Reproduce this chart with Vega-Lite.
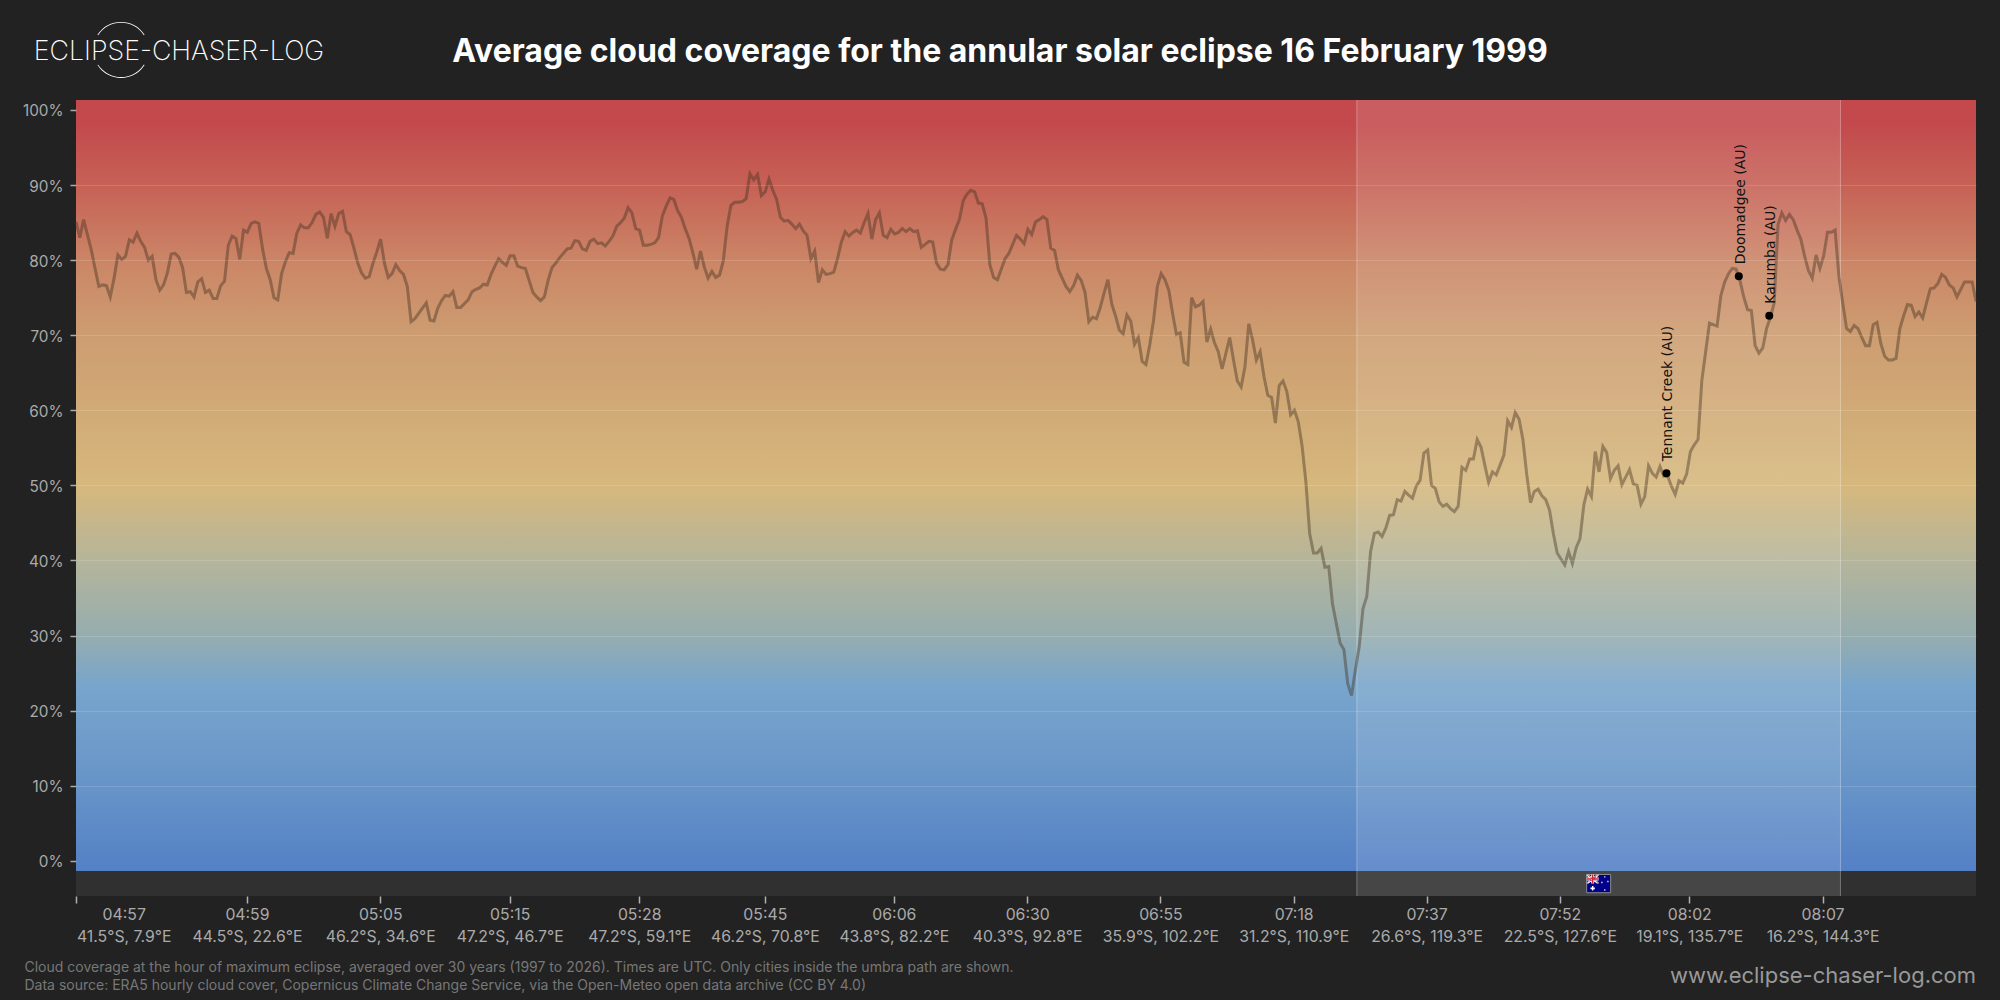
{"$schema":"https://vega.github.io/schema/vega-lite/v6.json","width":1900,"height":796,"autosize":{"type":"none"},"padding":{"left":76,"top":100,"right":24,"bottom":104},"background":"#222222","view":{"stroke":null},
"title":{"text":"Average cloud coverage for the annular solar eclipse 16 February 1999","anchor":"middle","frame":"group","dx":-26,"offset":-47,"font":"Inter","fontSize":32,"fontWeight":700,"color":"#ffffff"},
"datasets":{"cloud":[{"i":0,"v":85.1},{"i":1,"v":83.0},{"i":2,"v":85.4},{"i":3,"v":83.4},{"i":4,"v":81.4},{"i":5,"v":78.9},{"i":6,"v":76.5},{"i":7,"v":76.7},{"i":8,"v":76.6},{"i":9,"v":75.1},{"i":10,"v":77.6},{"i":11,"v":80.7},{"i":12,"v":80.1},{"i":13,"v":80.5},{"i":14,"v":82.7},{"i":15,"v":82.4},{"i":16,"v":83.6},{"i":17,"v":82.5},{"i":18,"v":81.7},{"i":19,"v":80.0},{"i":20,"v":80.5},{"i":21,"v":77.4},{"i":22,"v":76.0},{"i":23,"v":76.7},{"i":24,"v":78.3},{"i":25,"v":80.8},{"i":26,"v":80.9},{"i":27,"v":80.4},{"i":28,"v":79.0},{"i":29,"v":75.7},{"i":30,"v":75.8},{"i":31,"v":75.1},{"i":32,"v":77.1},{"i":33,"v":77.5},{"i":34,"v":75.7},{"i":35,"v":76.0},{"i":36,"v":74.9},{"i":37,"v":74.9},{"i":38,"v":76.6},{"i":39,"v":77.2},{"i":40,"v":82.0},{"i":41,"v":83.2},{"i":42,"v":82.9},{"i":43,"v":80.1},{"i":44,"v":84.0},{"i":45,"v":83.7},{"i":46,"v":84.9},{"i":47,"v":85.1},{"i":48,"v":84.9},{"i":49,"v":81.5},{"i":50,"v":78.9},{"i":51,"v":77.4},{"i":52,"v":75.0},{"i":53,"v":74.7},{"i":54,"v":78.2},{"i":55,"v":79.8},{"i":56,"v":81.0},{"i":57,"v":80.9},{"i":58,"v":83.6},{"i":59,"v":84.7},{"i":60,"v":84.3},{"i":61,"v":84.3},{"i":62,"v":85.0},{"i":63,"v":86.1},{"i":64,"v":86.4},{"i":65,"v":85.7},{"i":66,"v":82.9},{"i":67,"v":86.2},{"i":68,"v":84.5},{"i":69,"v":86.2},{"i":70,"v":86.5},{"i":71,"v":83.8},{"i":72,"v":83.4},{"i":73,"v":81.6},{"i":74,"v":79.6},{"i":75,"v":78.3},{"i":76,"v":77.6},{"i":77,"v":77.8},{"i":78,"v":79.6},{"i":79,"v":81.1},{"i":80,"v":82.8},{"i":81,"v":79.6},{"i":82,"v":77.7},{"i":83,"v":78.2},{"i":84,"v":79.4},{"i":85,"v":78.6},{"i":86,"v":78.1},{"i":87,"v":76.5},{"i":88,"v":71.8},{"i":89,"v":72.2},{"i":90,"v":72.9},{"i":91,"v":73.6},{"i":92,"v":74.3},{"i":93,"v":72.0},{"i":94,"v":71.9},{"i":95,"v":73.6},{"i":96,"v":74.6},{"i":97,"v":75.3},{"i":98,"v":75.2},{"i":99,"v":75.8},{"i":100,"v":73.7},{"i":101,"v":73.7},{"i":102,"v":74.2},{"i":103,"v":74.7},{"i":104,"v":75.8},{"i":105,"v":76.1},{"i":106,"v":76.3},{"i":107,"v":76.8},{"i":108,"v":76.7},{"i":109,"v":78.1},{"i":110,"v":79.2},{"i":111,"v":80.2},{"i":112,"v":79.7},{"i":113,"v":79.3},{"i":114,"v":80.6},{"i":115,"v":80.6},{"i":116,"v":79.2},{"i":117,"v":79.0},{"i":118,"v":78.9},{"i":119,"v":77.3},{"i":120,"v":75.7},{"i":121,"v":75.1},{"i":122,"v":74.6},{"i":123,"v":75.1},{"i":124,"v":77.3},{"i":125,"v":79.0},{"i":126,"v":79.6},{"i":127,"v":80.3},{"i":128,"v":80.9},{"i":129,"v":81.5},{"i":130,"v":81.6},{"i":131,"v":82.6},{"i":132,"v":82.5},{"i":133,"v":81.5},{"i":134,"v":81.3},{"i":135,"v":82.5},{"i":136,"v":82.8},{"i":137,"v":82.2},{"i":138,"v":82.3},{"i":139,"v":81.9},{"i":140,"v":82.5},{"i":141,"v":83.2},{"i":142,"v":84.5},{"i":143,"v":85.0},{"i":144,"v":85.6},{"i":145,"v":87.0},{"i":146,"v":86.3},{"i":147,"v":84.2},{"i":148,"v":84.0},{"i":149,"v":82.0},{"i":150,"v":82.0},{"i":151,"v":82.1},{"i":152,"v":82.3},{"i":153,"v":83.0},{"i":154,"v":85.9},{"i":155,"v":87.2},{"i":156,"v":88.3},{"i":157,"v":88.1},{"i":158,"v":86.6},{"i":159,"v":85.7},{"i":160,"v":84.2},{"i":161,"v":82.9},{"i":162,"v":81.0},{"i":163,"v":78.8},{"i":164,"v":81.2},{"i":165,"v":79.1},{"i":166,"v":77.6},{"i":167,"v":78.5},{"i":168,"v":77.7},{"i":169,"v":78.0},{"i":170,"v":79.9},{"i":171,"v":84.5},{"i":172,"v":87.3},{"i":173,"v":87.7},{"i":174,"v":87.7},{"i":175,"v":87.8},{"i":176,"v":88.2},{"i":177,"v":91.5},{"i":178,"v":90.7},{"i":179,"v":91.4},{"i":180,"v":88.6},{"i":181,"v":89.1},{"i":182,"v":90.8},{"i":183,"v":89.3},{"i":184,"v":88.1},{"i":185,"v":85.7},{"i":186,"v":85.2},{"i":187,"v":85.3},{"i":188,"v":84.8},{"i":189,"v":84.2},{"i":190,"v":84.8},{"i":191,"v":83.9},{"i":192,"v":83.3},{"i":193,"v":80.2},{"i":194,"v":81.2},{"i":195,"v":77.0},{"i":196,"v":78.7},{"i":197,"v":78.1},{"i":198,"v":78.2},{"i":199,"v":78.4},{"i":200,"v":80.2},{"i":201,"v":82.4},{"i":202,"v":83.8},{"i":203,"v":83.2},{"i":204,"v":83.7},{"i":205,"v":84.0},{"i":206,"v":83.6},{"i":207,"v":85.0},{"i":208,"v":86.2},{"i":209,"v":82.8},{"i":210,"v":85.4},{"i":211,"v":86.3},{"i":212,"v":83.3},{"i":213,"v":83.0},{"i":214,"v":84.1},{"i":215,"v":83.5},{"i":216,"v":83.7},{"i":217,"v":84.2},{"i":218,"v":83.8},{"i":219,"v":84.2},{"i":220,"v":83.8},{"i":221,"v":83.9},{"i":222,"v":81.7},{"i":223,"v":82.1},{"i":224,"v":82.5},{"i":225,"v":82.4},{"i":226,"v":79.6},{"i":227,"v":78.8},{"i":228,"v":78.7},{"i":229,"v":79.4},{"i":230,"v":82.7},{"i":231,"v":84.1},{"i":232,"v":85.4},{"i":233,"v":87.9},{"i":234,"v":88.8},{"i":235,"v":89.3},{"i":236,"v":89.1},{"i":237,"v":87.6},{"i":238,"v":87.5},{"i":239,"v":85.6},{"i":240,"v":79.4},{"i":241,"v":77.7},{"i":242,"v":77.4},{"i":243,"v":78.8},{"i":244,"v":80.2},{"i":245,"v":80.9},{"i":246,"v":82.1},{"i":247,"v":83.3},{"i":248,"v":82.8},{"i":249,"v":82.2},{"i":250,"v":84.1},{"i":251,"v":83.4},{"i":252,"v":85.1},{"i":253,"v":85.4},{"i":254,"v":85.8},{"i":255,"v":85.4},{"i":256,"v":81.6},{"i":257,"v":81.3},{"i":258,"v":78.7},{"i":259,"v":77.6},{"i":260,"v":76.5},{"i":261,"v":75.8},{"i":262,"v":76.6},{"i":263,"v":78.0},{"i":264,"v":77.3},{"i":265,"v":75.7},{"i":266,"v":71.8},{"i":267,"v":72.4},{"i":268,"v":72.2},{"i":269,"v":73.7},{"i":270,"v":75.6},{"i":271,"v":77.4},{"i":272,"v":74.2},{"i":273,"v":72.6},{"i":274,"v":70.7},{"i":275,"v":70.2},{"i":276,"v":72.7},{"i":277,"v":71.9},{"i":278,"v":68.8},{"i":279,"v":69.7},{"i":280,"v":66.5},{"i":281,"v":66.1},{"i":282,"v":68.7},{"i":283,"v":72.0},{"i":284,"v":76.5},{"i":285,"v":78.2},{"i":286,"v":77.4},{"i":287,"v":76.0},{"i":288,"v":72.9},{"i":289,"v":70.1},{"i":290,"v":70.3},{"i":291,"v":66.4},{"i":292,"v":66.1},{"i":293,"v":75.0},{"i":294,"v":73.8},{"i":295,"v":74.0},{"i":296,"v":74.5},{"i":297,"v":69.1},{"i":298,"v":70.8},{"i":299,"v":69.0},{"i":300,"v":67.8},{"i":301,"v":65.5},{"i":302,"v":67.6},{"i":303,"v":69.7},{"i":304,"v":66.7},{"i":305,"v":63.9},{"i":306,"v":63.1},{"i":307,"v":65.8},{"i":308,"v":71.5},{"i":309,"v":69.4},{"i":310,"v":66.7},{"i":311,"v":67.8},{"i":312,"v":64.5},{"i":313,"v":62.0},{"i":314,"v":61.7},{"i":315,"v":58.3},{"i":316,"v":63.3},{"i":317,"v":63.9},{"i":318,"v":62.5},{"i":319,"v":59.4},{"i":320,"v":60.0},{"i":321,"v":58.5},{"i":322,"v":55.3},{"i":323,"v":50.5},{"i":324,"v":43.6},{"i":325,"v":41.0},{"i":326,"v":41.0},{"i":327,"v":41.6},{"i":328,"v":39.1},{"i":329,"v":39.2},{"i":330,"v":34.2},{"i":331,"v":31.6},{"i":332,"v":29.0},{"i":333,"v":28.1},{"i":334,"v":23.6},{"i":335,"v":22.0},{"i":336,"v":25.4},{"i":337,"v":28.5},{"i":338,"v":33.6},{"i":339,"v":35.2},{"i":340,"v":41.2},{"i":341,"v":43.6},{"i":342,"v":43.8},{"i":343,"v":43.2},{"i":344,"v":44.3},{"i":345,"v":46.0},{"i":346,"v":46.1},{"i":347,"v":48.1},{"i":348,"v":47.9},{"i":349,"v":49.2},{"i":350,"v":48.7},{"i":351,"v":48.3},{"i":352,"v":49.9},{"i":353,"v":50.7},{"i":354,"v":54.3},{"i":355,"v":54.7},{"i":356,"v":50.0},{"i":357,"v":49.6},{"i":358,"v":47.8},{"i":359,"v":47.2},{"i":360,"v":47.5},{"i":361,"v":46.9},{"i":362,"v":46.5},{"i":363,"v":47.2},{"i":364,"v":52.4},{"i":365,"v":52.0},{"i":366,"v":53.5},{"i":367,"v":53.5},{"i":368,"v":56.1},{"i":369,"v":55.1},{"i":370,"v":52.7},{"i":371,"v":50.4},{"i":372,"v":51.8},{"i":373,"v":51.4},{"i":374,"v":52.7},{"i":375,"v":54.0},{"i":376,"v":58.6},{"i":377,"v":57.7},{"i":378,"v":59.7},{"i":379,"v":58.8},{"i":380,"v":56.1},{"i":381,"v":51.5},{"i":382,"v":47.7},{"i":383,"v":49.2},{"i":384,"v":49.5},{"i":385,"v":48.6},{"i":386,"v":48.1},{"i":387,"v":46.7},{"i":388,"v":43.6},{"i":389,"v":41.0},{"i":390,"v":40.2},{"i":391,"v":39.4},{"i":392,"v":41.2},{"i":393,"v":39.6},{"i":394,"v":41.7},{"i":395,"v":42.9},{"i":396,"v":47.4},{"i":397,"v":49.5},{"i":398,"v":48.5},{"i":399,"v":54.5},{"i":400,"v":51.8},{"i":401,"v":55.2},{"i":402,"v":54.4},{"i":403,"v":50.9},{"i":404,"v":52.0},{"i":405,"v":52.6},{"i":406,"v":50.1},{"i":407,"v":51.1},{"i":408,"v":52.1},{"i":409,"v":50.2},{"i":410,"v":50.0},{"i":411,"v":47.5},{"i":412,"v":48.5},{"i":413,"v":52.6},{"i":414,"v":51.6},{"i":415,"v":51.1},{"i":416,"v":52.5},{"i":417,"v":51.2},{"i":418,"v":51.3},{"i":419,"v":49.9},{"i":420,"v":48.8},{"i":421,"v":50.6},{"i":422,"v":50.3},{"i":423,"v":51.5},{"i":424,"v":54.5},{"i":425,"v":55.4},{"i":426,"v":56.1},{"i":427,"v":64.0},{"i":428,"v":67.8},{"i":429,"v":71.6},{"i":430,"v":71.4},{"i":431,"v":71.2},{"i":432,"v":75.3},{"i":433,"v":77.1},{"i":434,"v":78.2},{"i":435,"v":78.9},{"i":436,"v":78.8},{"i":437,"v":77.3},{"i":438,"v":75.1},{"i":439,"v":73.4},{"i":440,"v":73.3},{"i":441,"v":68.6},{"i":442,"v":67.6},{"i":443,"v":68.3},{"i":444,"v":70.9},{"i":445,"v":72.4},{"i":446,"v":74.3},{"i":447,"v":84.7},{"i":448,"v":86.3},{"i":449,"v":85.3},{"i":450,"v":86.1},{"i":451,"v":85.4},{"i":452,"v":84.0},{"i":453,"v":82.8},{"i":454,"v":80.5},{"i":455,"v":78.6},{"i":456,"v":77.6},{"i":457,"v":80.7},{"i":458,"v":78.9},{"i":459,"v":80.6},{"i":460,"v":83.7},{"i":461,"v":83.7},{"i":462,"v":84.0},{"i":463,"v":77.8},{"i":464,"v":74.3},{"i":465,"v":70.9},{"i":466,"v":70.5},{"i":467,"v":71.3},{"i":468,"v":70.9},{"i":469,"v":69.7},{"i":470,"v":68.6},{"i":471,"v":68.6},{"i":472,"v":71.4},{"i":473,"v":71.7},{"i":474,"v":68.9},{"i":475,"v":67.2},{"i":476,"v":66.7},{"i":477,"v":66.7},{"i":478,"v":66.9},{"i":479,"v":70.9},{"i":480,"v":72.6},{"i":481,"v":74.1},{"i":482,"v":74.0},{"i":483,"v":72.5},{"i":484,"v":73.1},{"i":485,"v":72.3},{"i":486,"v":74.3},{"i":487,"v":76.2},{"i":488,"v":76.3},{"i":489,"v":76.9},{"i":490,"v":78.1},{"i":491,"v":77.7},{"i":492,"v":76.7},{"i":493,"v":76.3},{"i":494,"v":75.1},{"i":495,"v":76.1},{"i":496,"v":77.1},{"i":497,"v":77.1},{"i":498,"v":77.1},{"i":499,"v":74.5}],
"cities":[{"i":417.7,"v":51.6,"name":"Tennant Creek (AU)"},{"i":436.7,"v":77.85,"name":"Doomadgee (AU)"},{"i":444.7,"v":72.6,"name":"Karumba (AU)"}],
"flag":[{"i":399.9,"v":-3.04,"country":"Australia"}],
"logo":[{"i":11.82,"v":108,"name":"ECLIPSE-CHASER-LOG"}]},
"encoding":{
"x":{"field":"i","type":"quantitative","scale":{"domain":[0,499],"nice":false,"zero":false},
"axis":{"values":[0,44.9,79.9,113.9,147.9,180.9,214.8,249.8,284.8,319.8,354.7,389.7,423.7,458.7],"grid":false,"domain":false,"tickColor":"#b0b0b0","tickSize":7,"tickWidth":1.5,"labelColor":"#aaaaaa","labelFont":"Inter","labelFontSize":15.8,"labelPadding":4,"labelLineHeight":22,"labelBaseline":"top","labelAlign":"center","labelBound":false,"labelFlush":false,"labelOverlap":false,"labelOffset":{"condition":{"test":"datum.value===0","value":47.7},"value":0},
"labelExpr":"({'0':['04:57','41.5°S, 7.9°E'],'44.9':['04:59','44.5°S, 22.6°E'],'79.9':['05:05','46.2°S, 34.6°E'],'113.9':['05:15','47.2°S, 46.7°E'],'147.9':['05:28','47.2°S, 59.1°E'],'180.9':['05:45','46.2°S, 70.8°E'],'214.8':['06:06','43.8°S, 82.2°E'],'249.8':['06:30','40.3°S, 92.8°E'],'284.8':['06:55','35.9°S, 102.2°E'],'319.8':['07:18','31.2°S, 110.9°E'],'354.7':['07:37','26.6°S, 119.3°E'],'389.7':['07:52','22.5°S, 127.6°E'],'423.7':['08:02','19.1°S, 135.7°E'],'458.7':['08:07','16.2°S, 144.3°E']})[datum.value]",
"title":["Cloud coverage at the hour of maximum eclipse, averaged over 30 years (1997 to 2026). Times are UTC. Only cities inside the umbra path are shown.","Data source: ERA5 hourly cloud cover, Copernicus Climate Change Service, via the Open-Meteo open data archive (CC BY 4.0)"],"titleAnchor":"start","titleAlign":"left","titleBaseline":"alphabetic","titleX":-52,"titleY":75,"titleColor":"#777777","titleFont":"Inter","titleFontSize":14,"titleFontWeight":400,"titleLineHeight":18.3}},
"y":{"field":"v","type":"quantitative","scale":{"domain":[-4.69,101.33],"nice":false,"zero":false},
"axis":{"values":[0,10,20,30,40,50,60,70,80,90,100],"zindex":1,"format":"d","labelExpr":"datum.value+'%'","grid":true,"gridColor":"#ffffff","gridWidth":1,"gridOpacity":{"condition":{"test":"datum.value>0&&datum.value<100","value":0.14},"value":0},"domain":false,"tickColor":"#aaaaaa","tickSize":6,"tickWidth":1.5,"labelColor":"#aaaaaa","labelFont":"Inter","labelFontSize":15.3,"labelPadding":7,"labelOffset":1,"title":null}}
},
"layer":[
{"data":{"values":[{"i":0,"i2":499,"v":-4.69,"v2":-1.37}]},"mark":{"type":"rect","fill":"#303030"},"encoding":{"x2":{"field":"i2"},"y2":{"field":"v2"}}},
{"data":{"values":[{"i":0,"i2":499,"v":-1.37,"v2":101.33}]},"mark":{"type":"rect","fill":{"gradient":"linear","x1":0,"y1":0,"x2":0,"y2":1,"stops":[{"offset":0,"color":"#c3494c"},{"offset":0.03,"color":"#c3494c"},{"offset":0.11,"color":"#c66156"},{"offset":0.208,"color":"#cb8566"},{"offset":0.305,"color":"#cd9d71"},{"offset":0.402,"color":"#d1aa76"},{"offset":0.5,"color":"#d6b87d"},{"offset":0.597,"color":"#b5b59a"},{"offset":0.694,"color":"#96adaf"},{"offset":0.76,"color":"#78a5cc"},{"offset":0.889,"color":"#6794c8"},{"offset":1,"color":"#5480c6"}]}},"encoding":{"x2":{"field":"i2"},"y2":{"field":"v2"}}},
{"data":{"values":[{"i":336.4,"i2":463.4,"v":-4.69,"v2":101.33}]},"mark":{"type":"rect","fill":"#ffffff","fillOpacity":0.11},"encoding":{"x2":{"field":"i2"},"y2":{"field":"v2"}}},
{"data":{"values":[{"i":336.4,"v":-4.69,"v2":101.33},{"i":463.4,"v":-4.69,"v2":101.33}]},"mark":{"type":"rule","stroke":"#ffffff","strokeOpacity":0.3,"strokeWidth":1},"encoding":{"y2":{"field":"v2"}}},
{"data":{"name":"cloud"},"mark":{"type":"line","stroke":"#40301f","strokeOpacity":0.42,"strokeWidth":3,"strokeJoin":"miter","interpolate":"linear"}},
{"data":{"name":"flag"},"mark":{"type":"point","filled":true,"opacity":1,"size":576,"shape":"M-1,-0.76 H1 V0.76 H-1 Z","fill":"#00008b","stroke":"#8a8a8a","strokeWidth":1}},
{"data":{"name":"flag"},"mark":{"type":"point","filled":true,"opacity":1,"size":576,"shape":"M-1,-0.76 L-0.85,-0.76 L0,-0.1 L0,0 L-0.15,0 L-1,-0.66 Z M0,-0.76 L-0.15,-0.76 L-1,-0.1 L-1,0 L-0.85,0 L0,-0.66 Z M-0.62,-0.76 H-0.38 V0 H-0.62 Z M-1,-0.5 H0 V-0.26 H-1 Z M-0.56,0.2 H-0.44 V0.58 H-0.56 Z M-0.68,0.32 H-0.32 V0.46 H-0.68 Z M0.46,-0.62 H0.56 V-0.5 H0.46 Z M0.72,-0.24 H0.82 V-0.12 H0.72 Z M0.22,-0.16 H0.32 V-0.04 H0.22 Z M0.46,0.46 H0.56 V0.6 H0.46 Z","fill":"#ffffff","strokeWidth":0}},
{"data":{"name":"flag"},"mark":{"type":"point","filled":true,"opacity":1,"size":576,"shape":"M-0.56,-0.76 H-0.44 V0 H-0.56 Z M-1,-0.44 H0 V-0.32 H-1 Z M-1,-0.76 L-0.92,-0.76 L0,-0.05 L0,0 Z M0,-0.76 L-0.08,-0.76 L-1,-0.05 L-1,0 Z","fill":"#d8202c","strokeWidth":0}},
{"data":{"name":"cities"},"mark":{"type":"point","filled":true,"opacity":1,"size":64,"fill":"#000000","strokeWidth":0}},
{"data":{"name":"cities"},"mark":{"type":"text","angle":270,"align":"left","baseline":"middle","dx":12,"dy":2,"font":"DejaVu Sans","fontSize":14,"fill":"#111111"},"encoding":{"text":{"field":"name"}}},
{"data":{"name":"logo"},"mark":{"type":"text","align":"center","baseline":"alphabetic","dy":10,"dx":58,"font":"Inter","fontSize":26.8,"fontWeight":200,"fill":"#ffffff"},"encoding":{"text":{"field":"name"}}},
{"data":{"name":"logo"},"mark":{"type":"arc","radius":28,"radius2":27.2,"theta":-1.0,"theta2":1.0,"fill":"#ffffff"}},
{"data":{"name":"logo"},"mark":{"type":"arc","radius":28,"radius2":27.2,"theta":2.14,"theta2":4.14,"fill":"#ffffff"}},
{"data":{"values":[{"i":499,"v":-15.36,"site":"www.eclipse-chaser-log.com"}]},"mark":{"type":"text","align":"right","baseline":"middle","font":"Inter","fontSize":22,"fill":"#999999"},"encoding":{"text":{"field":"site"}}}
],
"config":{"axis":{"labelLimit":0,"titleLimit":0}}}
